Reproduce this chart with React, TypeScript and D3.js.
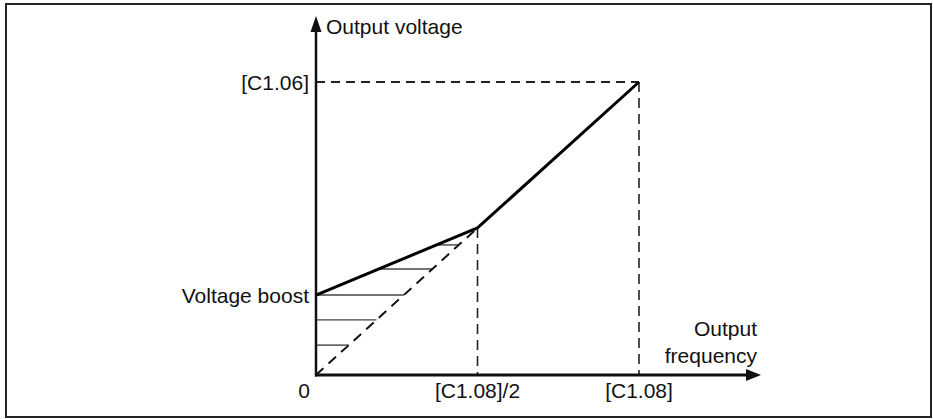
import React from "react";
import * as d3 from "d3";

// Normalised quantities (x: fraction of [C1.08], y: fraction of [C1.06])
const boost = 0.273;
const kneeX = 0.5;
const kneeY = 0.502;
const curve: [number, number][] = [
  [0, boost],
  [kneeX, kneeY],
  [1, 1],
];
const linearRef: [number, number][] = [
  [0, 0],
  [kneeX, kneeY],
];
const hatchLevels = [0.102, 0.188, 0.273, 0.362, 0.444];
const xTickValues = [0, 0.5, 1];
const xTickLabels = ["0", "[C1.08]/2", "[C1.08]"];
const yLabelTop = "[C1.06]";
const yLabelBoost = "Voltage boost";

const W = 933;
const H = 419;
const FONT = "'Liberation Sans', Arial, sans-serif";

export default function App() {
  const x = d3.scaleLinear().domain([0, 1]).range([316, 639]);
  const y = d3.scaleLinear().domain([0, 1]).range([375, 82]);
  const line = d3
    .line<[number, number]>()
    .x((d) => x(d[0]))
    .y((d) => y(d[1]));

  const refX = (v: number) => (v / kneeY) * kneeX;
  const curveX = (v: number) => ((v - boost) / (kneeY - boost)) * kneeX;

  const ink = "#111";
  const axisX = x(0);
  const axisY = y(0);

  return (
    <svg
      width={W}
      height={H}
      style={{ position: "absolute", left: 0, top: 0, background: "#fff" }}
    >
      <rect x={6} y={4} width={925} height={413} fill="none" stroke="#222" strokeWidth={2} />

      {hatchLevels.map((v, i) => {
        const x0 = v <= boost ? 0 : curveX(v);
        return (
          <line
            key={i}
            x1={x(x0) + 1}
            x2={x(refX(v))}
            y1={y(v)}
            y2={y(v)}
            stroke="#444"
            strokeWidth={1.4}
          />
        );
      })}

      <path d={line(linearRef) || ""} fill="none" stroke={ink} strokeWidth={2} strokeDasharray="10,7" />

      <line x1={axisX} x2={x(1)} y1={y(1)} y2={y(1)} stroke="#222" strokeWidth={2} strokeDasharray="9,6" />
      <line x1={x(1)} x2={x(1)} y1={y(1)} y2={axisY} stroke="#222" strokeWidth={1.6} strokeDasharray="10,6" />
      <line x1={x(kneeX)} x2={x(kneeX)} y1={y(kneeY)} y2={axisY} stroke="#222" strokeWidth={1.6} strokeDasharray="10,6" />

      <path d={line(curve) || ""} fill="none" stroke="#000" strokeWidth={3} strokeLinejoin="round" />

      <line x1={axisX} x2={axisX} y1={axisY + 1.5} y2={28} stroke={ink} strokeWidth={2.5} />
      <path d={`M${axisX},16 L${axisX - 5.5},32 L${axisX + 5.5},32 Z`} fill={ink} />
      <line x1={axisX - 1} x2={748} y1={axisY} y2={axisY} stroke={ink} strokeWidth={3} />
      <path d={`M761,${axisY} L746,${axisY - 6} L746,${axisY + 6} Z`} fill={ink} />

      <g fontFamily={FONT} fontSize={21} fill={ink}>
        <text x={326} y={34}>Output voltage</text>
        <text x={309} y={y(1) + 7.5} textAnchor="end">{yLabelTop}</text>
        <text x={309} y={y(boost) + 7.5} textAnchor="end">{yLabelBoost}</text>
        <text x={757} y={336} textAnchor="end">Output</text>
        <text x={757} y={363} textAnchor="end">frequency</text>
        {xTickValues.map((v, i) => (
          <text
            key={i}
            x={i === 0 ? axisX - 12 : x(v)}
            y={398}
            textAnchor="middle"
          >
            {xTickLabels[i]}
          </text>
        ))}
      </g>
    </svg>
  );
}
